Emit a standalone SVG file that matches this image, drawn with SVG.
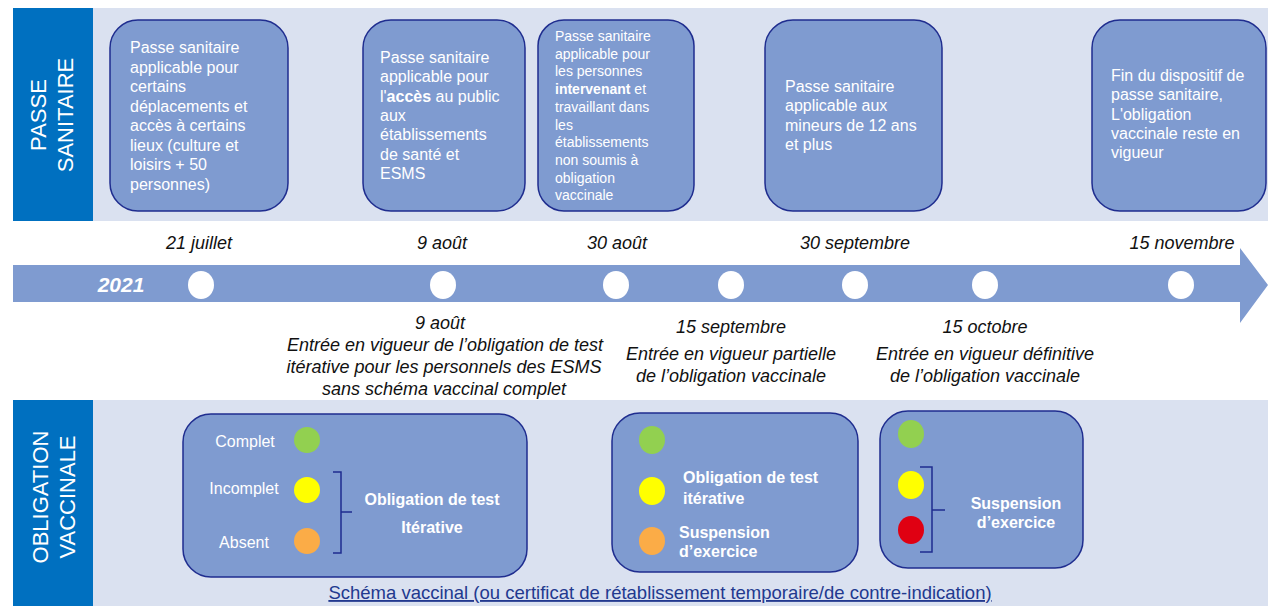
<svg xmlns="http://www.w3.org/2000/svg" width="1268" height="606" viewBox="0 0 1268 606">
<style>
.band{fill:#DAE1F0}
.lab{fill:#0070C0}
.labt{font-family:"Liberation Sans",Arial,sans-serif;font-size:22px;fill:#fff;text-anchor:middle}
.box{fill:#7F9BD0;stroke:#1F2D8F;stroke-width:1.5}
.bt{font-family:"Liberation Sans",Arial,sans-serif;font-size:16px;fill:#fff}
.bt3{font-family:"Liberation Sans",Arial,sans-serif;font-size:14px;fill:#fff}
.date{font-family:"Liberation Sans",Arial,sans-serif;font-size:18px;font-style:italic;fill:#111;text-anchor:middle}
.dot{fill:#fff}
.wb{font-family:"Liberation Sans",Arial,sans-serif;font-size:16px;font-weight:bold;fill:#fff}
.br{fill:none;stroke:#1F2D8F;stroke-width:1.5}
</style>
<rect x="0" y="0" width="1268" height="606" fill="#fff"/>
<rect class="band" x="13" y="8" width="1255" height="213"/>
<rect class="band" x="13" y="400" width="1255" height="206"/>
<g id="label-passe">
<rect class="lab" x="13" y="8" width="80" height="213"/>
<text class="labt" transform="rotate(-90)" x="-115" y="46">PASSE</text>
<text class="labt" transform="rotate(-90)" x="-115" y="73">SANITAIRE</text>
</g>
<g id="label-obligation">
<rect class="lab" x="13" y="400" width="80" height="206"/>
<text class="labt" transform="rotate(-90)" x="-497" y="48">OBLIGATION</text>
<text class="labt" transform="rotate(-90)" x="-497" y="75">VACCINALE</text>
</g>
<g id="box-21juillet">
<rect class="box" x="110" y="20" width="178" height="191" rx="28"/>
<text class="bt" x="130" y="53">Passe sanitaire</text>
<text class="bt" x="130" y="72.5">applicable pour</text>
<text class="bt" x="130" y="92">certains</text>
<text class="bt" x="130" y="111.5">déplacements et</text>
<text class="bt" x="130" y="131">accès à certains</text>
<text class="bt" x="130" y="150.5">lieux (culture et</text>
<text class="bt" x="130" y="170">loisirs + 50</text>
<text class="bt" x="130" y="189.5">personnes)</text>
</g>
<g id="box-9aout">
<rect class="box" x="363" y="20" width="162" height="191" rx="28"/>
<text class="bt" x="380" y="63">Passe sanitaire</text>
<text class="bt" x="380" y="82.3">applicable pour</text>
<text class="bt" x="380" y="101.6">l'<tspan font-weight="bold">accès</tspan> au public</text>
<text class="bt" x="380" y="120.9">aux</text>
<text class="bt" x="380" y="140.2">établissements</text>
<text class="bt" x="380" y="159.5">de santé et</text>
<text class="bt" x="380" y="178.8">ESMS</text>
</g>
<g id="box-30aout">
<rect class="box" x="538" y="20" width="156" height="191" rx="26"/>
<text class="bt3" x="555" y="41">Passe sanitaire</text>
<text class="bt3" x="555" y="58.7">applicable pour</text>
<text class="bt3" x="555" y="76.4">les personnes</text>
<text class="bt3" x="555" y="94.1"><tspan font-weight="bold">intervenant</tspan> et</text>
<text class="bt3" x="555" y="111.8">travaillant dans</text>
<text class="bt3" x="555" y="129.5">les</text>
<text class="bt3" x="555" y="147.2">établissements</text>
<text class="bt3" x="555" y="164.9">non soumis à</text>
<text class="bt3" x="555" y="182.6">obligation</text>
<text class="bt3" x="555" y="200.3">vaccinale</text>
</g>
<g id="box-30septembre">
<rect class="box" x="765" y="20" width="177" height="191" rx="28"/>
<text class="bt" x="785" y="92">Passe sanitaire</text>
<text class="bt" x="785" y="111.3">applicable aux</text>
<text class="bt" x="785" y="130.6">mineurs de 12 ans</text>
<text class="bt" x="785" y="149.9">et plus</text>
</g>
<g id="box-15novembre">
<rect class="box" x="1092" y="20" width="174" height="191" rx="28"/>
<text class="bt" x="1111" y="81">Fin du dispositif de</text>
<text class="bt" x="1111" y="100.3">passe sanitaire,</text>
<text class="bt" x="1111" y="119.6">L'obligation</text>
<text class="bt" x="1111" y="138.9">vaccinale reste en</text>
<text class="bt" x="1111" y="158.2">vigueur</text>
</g>
<g id="timeline">
<path d="M13,265 H1240 V248 L1268,285 L1240,323 V302 H13 Z" fill="#7F9BD0"/>
<text x="121" y="292" font-family="'Liberation Sans',Arial,sans-serif" font-size="21" font-weight="bold" font-style="italic" fill="#fff" text-anchor="middle">2021</text>
<ellipse class="dot" cx="201" cy="285" rx="13" ry="14"/>
<ellipse class="dot" cx="443" cy="285" rx="13" ry="14"/>
<ellipse class="dot" cx="616" cy="285" rx="13" ry="14"/>
<ellipse class="dot" cx="731" cy="285" rx="13" ry="14"/>
<ellipse class="dot" cx="855" cy="285" rx="13" ry="14"/>
<ellipse class="dot" cx="985" cy="285" rx="13" ry="14"/>
<ellipse class="dot" cx="1181" cy="285" rx="13" ry="14"/>
<text class="date" x="199" y="249">21 juillet</text>
<text class="date" x="442" y="249">9 août</text>
<text class="date" x="617" y="249">30 août</text>
<text class="date" x="855" y="249">30 septembre</text>
<text class="date" x="1182" y="249">15 novembre</text>
<text class="date" x="440" y="329">9 août</text>
<text class="date" x="445" y="351">Entrée en vigueur de l’obligation de test</text>
<text class="date" x="444" y="373">itérative pour les personnels des ESMS</text>
<text class="date" x="444" y="395">sans schéma vaccinal complet</text>
<text class="date" x="731" y="333">15 septembre</text>
<text class="date" x="731" y="360">Entrée en vigueur partielle</text>
<text class="date" x="731" y="382">de l’obligation vaccinale</text>
<text class="date" x="985" y="333">15 octobre</text>
<text class="date" x="985" y="360">Entrée en vigueur définitive</text>
<text class="date" x="985" y="382">de l’obligation vaccinale</text>
</g>
<g id="box-obl-1">
<rect class="box" x="183" y="414" width="344" height="163" rx="28"/>
<text class="bt" x="245" y="447" text-anchor="middle">Complet</text>
<text class="bt" x="244" y="494" text-anchor="middle">Incomplet</text>
<text class="bt" x="244" y="548" text-anchor="middle">Absent</text>
<circle cx="307" cy="440" r="13" fill="#92D050"/>
<circle cx="307" cy="490" r="13" fill="#FFFF00"/>
<circle cx="307" cy="541" r="13" fill="#FBAC47"/>
<path class="br" d="M333,472 H341 V553 H333 M341,512 H352"/>
<text class="wb" x="432" y="505" text-anchor="middle">Obligation de test</text>
<text class="wb" x="432" y="533" text-anchor="middle">Itérative</text>
</g>
<g id="box-obl-2">
<rect class="box" x="612" y="413" width="246" height="159" rx="28"/>
<ellipse cx="652" cy="440" rx="13" ry="14" fill="#92D050"/>
<ellipse cx="652" cy="491" rx="13" ry="14" fill="#FFFF00"/>
<ellipse cx="652" cy="541" rx="13" ry="14" fill="#FBAC47"/>
<text class="wb" x="683" y="483">Obligation de test</text>
<text class="wb" x="683" y="504">itérative</text>
<text class="wb" x="679" y="538">Suspension</text>
<text class="wb" x="679" y="557">d’exercice</text>
</g>
<g id="box-obl-3">
<rect class="box" x="880" y="411" width="203" height="157" rx="28"/>
<ellipse cx="911" cy="434" rx="13" ry="14" fill="#92D050"/>
<ellipse cx="911" cy="485" rx="13" ry="14" fill="#FFFF00"/>
<ellipse cx="911" cy="530" rx="13" ry="14" fill="#E00012"/>
<path class="br" d="M920,467 H932 V552 H920 M932,510 H945"/>
<text class="wb" x="1016" y="509" text-anchor="middle">Suspension</text>
<text class="wb" x="1016" y="528" text-anchor="middle">d’exercice</text>
</g>
<text x="660" y="599" font-family="'Liberation Sans',Arial,sans-serif" font-size="18.5" fill="#22398F" text-anchor="middle" text-decoration="underline">Schéma vaccinal (ou certificat de rétablissement temporaire/de contre-indication)</text>
</svg>
